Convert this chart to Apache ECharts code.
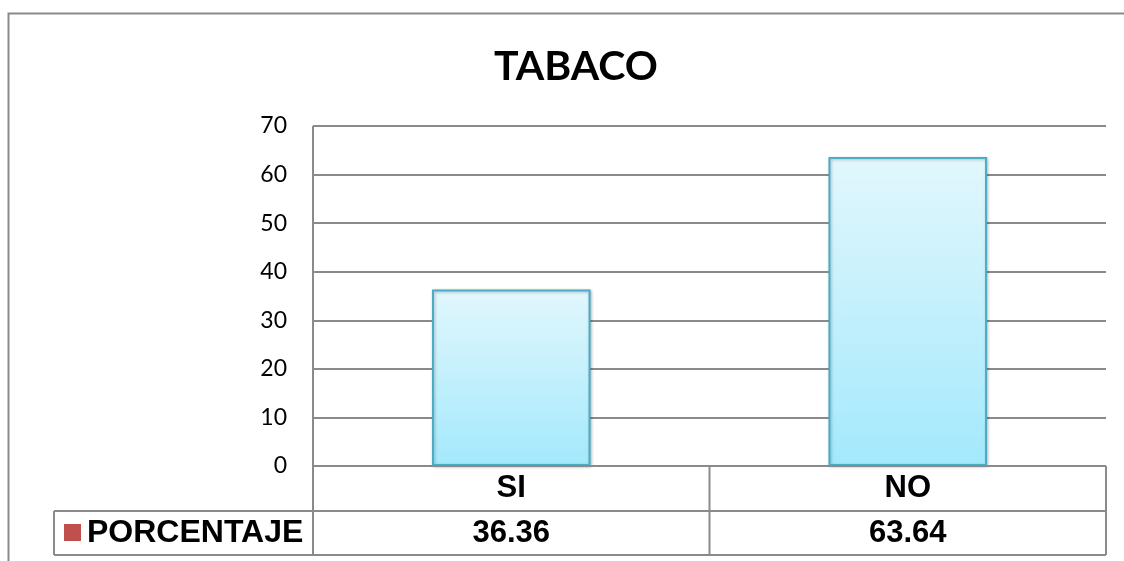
<!DOCTYPE html>
<html><head><meta charset="utf-8">
<script src="https://cdn.jsdelivr.net/npm/echarts@6/dist/echarts.min.js"></script>
<style>html,body{margin:0;padding:0;background:#fff}#c{width:1124px;height:561px}</style>
</head><body><div id="c"></div>
<script>
const titleText = 'TABACO';
const categories = ['SI', 'NO'];
const seriesName = 'PORCENTAJE';
const values = [36.36, 63.64];
const yTicks = [0, 10, 20, 30, 40, 50, 60, 70];

const W = 1124, H = 561;
const gL = 313, gR = 1106, gT = 126, gB = 466;
const rowMid = 511, rowBot = 555, tblLeft = 54;
const line = '#8a8a8a';
const tblFont = '"Liberation Sans", Arial, sans-serif';
const chart = echarts.init(document.getElementById('c'), null, {renderer: 'canvas'});

const band = (gR - gL) / categories.length;
const g = [];
// outer frame
g.push({type: 'polyline', shape: {points: [[8.5, H + 5], [8.5, 13.5], [W + 5, 13.5]]}, style: {stroke: line, lineWidth: 2, fill: null}, z: 10});
// table lines
g.push({type: 'line', shape: {x1: gL, y1: gB, x2: gR, y2: gB}, style: {stroke: line, lineWidth: 2}, z: 10});
g.push({type: 'line', shape: {x1: tblLeft, y1: rowMid, x2: gR, y2: rowMid}, style: {stroke: line, lineWidth: 2}, z: 10});
g.push({type: 'line', shape: {x1: tblLeft, y1: rowBot, x2: gR, y2: rowBot}, style: {stroke: line, lineWidth: 2}, z: 10});
g.push({type: 'line', shape: {x1: tblLeft, y1: rowMid, x2: tblLeft, y2: rowBot}, style: {stroke: line, lineWidth: 2}, z: 10});
g.push({type: 'line', shape: {x1: gL, y1: gT, x2: gL, y2: rowBot}, style: {stroke: line, lineWidth: 2}, z: 10});
for (let i = 1; i <= categories.length; i++) {
  const x = gL + band * i;
  g.push({type: 'line', shape: {x1: x, y1: gB, x2: x, y2: rowBot}, style: {stroke: line, lineWidth: 2}, z: 10});
}
// legend key + row label
g.push({type: 'rect', shape: {x: 64, y: 524, width: 17, height: 17}, style: {fill: '#C0504D'}, z: 10});
g.push({type: 'text', style: {text: seriesName, x: 87, y: 533, verticalAlign: 'middle', font: 'bold 32px ' + tblFont, fill: '#000'}, z: 10});
// values row
values.forEach((v, i) => {
  g.push({type: 'text', style: {text: v.toFixed(2), x: gL + band * (i + 0.5), y: 533, align: 'center', verticalAlign: 'middle', font: 'bold 31px ' + tblFont, fill: '#000'}, z: 10});
});

chart.setOption({
  animation: false,
  backgroundColor: '#fff',
  title: {text: titleText, left: 571, top: 41, textAlign: 'center',
    textStyle: {fontFamily: 'Lato', fontWeight: 'bold', fontSize: 41, color: '#000'}},
  grid: {left: gL, right: W - gR, top: gT, bottom: H - gB, containLabel: false},
  xAxis: {type: 'category', data: categories,
    axisLine: {show: false}, axisTick: {show: false},
    axisLabel: {margin: 22, fontFamily: tblFont, fontWeight: 'bold', fontSize: 31, color: '#000', verticalAlign: 'middle'}},
  yAxis: {type: 'value', min: yTicks[0], max: yTicks[yTicks.length - 1], interval: 10,
    axisLine: {show: false}, axisTick: {show: false},
    axisLabel: {margin: 26, fontFamily: 'Lato', fontSize: 23, color: '#000'},
    splitLine: {lineStyle: {color: line, width: 2}}},
  series: [{name: seriesName, type: 'bar', data: values, barWidth: '40%',
    itemStyle: {
      color: new echarts.graphic.LinearGradient(0, 0, 0, 1, [{offset: 0, color: '#E2F7FD'}, {offset: 1, color: '#A3E9FC'}]),
      borderColor: '#4BACC6', borderWidth: 2,
      shadowColor: 'rgba(0,0,0,0.25)', shadowBlur: 3, shadowOffsetX: 1, shadowOffsetY: 1
    }}],
  graphic: g
});
</script></body></html>
